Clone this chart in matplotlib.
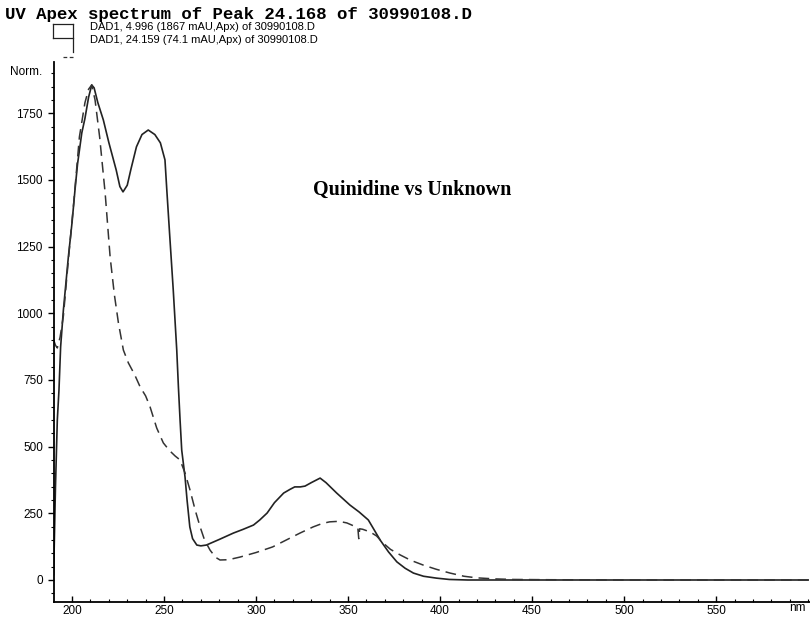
import matplotlib.pyplot as plt
from matplotlib.lines import Line2D
from matplotlib.ticker import MultipleLocator

plt.rcParams['font.family'] = ['Liberation Sans', 'DejaVu Sans']

# spectrum 1 (solid): DAD1, 4.996
wl_solid = [190, 191, 192, 192.9, 193.8, 195.3, 198, 200, 201.6, 203, 205.3, 207, 209, 210.7,
            212, 214, 217, 220, 224, 226, 227.7, 230, 232, 235, 238, 241.4, 245, 248, 250.5,
            251.5, 253, 255, 256.9, 257.8, 258.7, 259.6, 261.4, 262.5, 264, 265.5, 267.8, 270,
            273, 280, 287.7, 293, 298.6, 302, 306, 310, 315, 318.5, 321, 324, 326.6, 330,
            334.8, 338, 343.8, 351, 356, 361, 364, 367.4, 372, 376.5, 381, 385.5, 391, 398,
            405, 415, 450, 500, 550, 600]
ab_solid = [20, 350, 600, 712, 874, 1012, 1211, 1340, 1462, 1560, 1676, 1730, 1810, 1856,
            1845, 1790, 1725, 1640, 1537, 1475, 1455, 1480, 1540, 1624, 1670, 1687, 1670, 1639, 1575,
            1462, 1300, 1087, 862, 724, 600, 487, 386, 300, 199, 155, 131, 128,
            131, 152, 176, 190, 206, 225, 251, 290, 326, 340, 349, 349, 352, 365,
            382, 365, 326, 281, 255, 225, 190, 150, 105, 68, 44, 26, 14, 7,
            2, 0, 0, 0, 0, 0]

# spectrum 2 (dashed): DAD1, 24.159
wl_dash = [190, 191, 192, 193.5, 195.3, 198, 201, 204, 207, 209, 210.7, 212.5, 215, 218,
           220.7, 223, 225.2, 227.9, 230.6, 234, 237, 240, 242.4, 246, 249.6, 253, 256, 258.7,
           261.4, 264, 267, 269.6, 272, 275, 278, 280.4, 285, 291.3, 300, 309, 315, 323.9,
           331, 336, 340, 345, 349.3, 352, 355.3, 355.8, 356.3, 358, 362, 365.5, 369, 373,
           378.3, 384, 390.8, 398, 405.4, 413, 420, 430, 440, 460, 500, 550, 600]
ab_dash = [900, 880, 870, 910, 990, 1200, 1420, 1661, 1789, 1840, 1856, 1800, 1661, 1450,
           1211, 1070, 964, 862, 814, 770, 724, 690, 649, 570, 514, 485, 465, 450,
           401, 340, 260, 199, 150, 112, 85, 75, 76, 86, 103, 124, 145, 176,
           199, 212, 218, 220, 214, 206, 195, 155, 192, 190, 180, 165, 139, 115,
           94, 74, 56, 40, 26, 14, 8, 4, 2, 1, 0, 0, 0]

xticks = [200, 250, 300, 350, 400, 450, 500, 550]
yticks = [0, 250, 500, 750, 1000, 1250, 1500, 1750]

fig = plt.figure(figsize=(8.1, 6.19), dpi=100)
ax = fig.add_axes([54 / 810, 1 - 602 / 619, 1 - 54 / 810, (602 - 62) / 619])

ax.plot(wl_solid, ab_solid, color='#222222', lw=1.2)
ax.plot(wl_dash, ab_dash, color='#333333', lw=1.1, dashes=(7, 4))

ax.set_xlim(190.2, 601)
ax.set_ylim(-82.5, 1942)

for s in ['top', 'right']:
    ax.spines[s].set_visible(False)
ax.spines['left'].set_linewidth(1.3)
ax.spines['bottom'].set_linewidth(1.3)

ax.set_xticks(xticks)
ax.set_xticklabels([str(v) for v in xticks], fontsize=8.5)
ax.set_yticks(yticks)
ax.set_yticklabels([str(v) for v in yticks], fontsize=8.5)
ax.xaxis.set_minor_locator(MultipleLocator(10))
ax.yaxis.set_minor_locator(MultipleLocator(50))
ax.tick_params(axis='x', which='major', length=4, width=1, direction='in', pad=2)
ax.tick_params(axis='x', which='minor', length=2, width=0.8, direction='in')
ax.tick_params(axis='y', which='major', length=4, width=1, direction='out', pad=4)
ax.tick_params(axis='y', which='minor', length=2, width=0.8, direction='out')

ax.text(594, -0.0, 'nm', transform=ax.get_xaxis_transform(), ha='center', va='top',
        fontsize=8.5)
ax.text(-0.016, 0.982, 'Norm.', transform=ax.transAxes, ha='right', va='center', fontsize=8.5)

ax.text(385, 1462, 'Quinidine vs Unknown', family='Liberation Serif', fontweight='bold',
        fontsize=14.5, ha='center', va='center')

# title and ChemStation style legend
fig.text(5 / 810, 1 - 14 / 619, 'UV Apex spectrum of Peak 24.168 of 30990108.D',
         family='Liberation Mono', fontsize=12.5, fontweight='bold', va='center', ha='left')


def fpt(x, y):
    return x / 810, 1 - y / 619


leg_lines = [
    [(53, 24), (73, 24)], [(53, 24), (53, 38)], [(53, 38), (73, 38)], [(73, 24), (73, 52)],
]
for seg in leg_lines:
    (x0, y0), (x1, y1) = fpt(*seg[0]), fpt(*seg[1])
    fig.add_artist(Line2D([x0, x1], [y0, y1], color='#222222', lw=0.9))
(x0, y0), (x1, y1) = fpt(63, 57), fpt(73, 57)
fig.add_artist(Line2D([x0, x1], [y0, y1], color='#333333', lw=0.9, dashes=(3, 2)))

fig.text(*fpt(90, 27), 'DAD1, 4.996 (1867 mAU,Apx) of 30990108.D', fontsize=8, va='center')
fig.text(*fpt(90, 40), 'DAD1, 24.159 (74.1 mAU,Apx) of 30990108.D', fontsize=8, va='center')

fig.savefig('out.png', dpi=100)
